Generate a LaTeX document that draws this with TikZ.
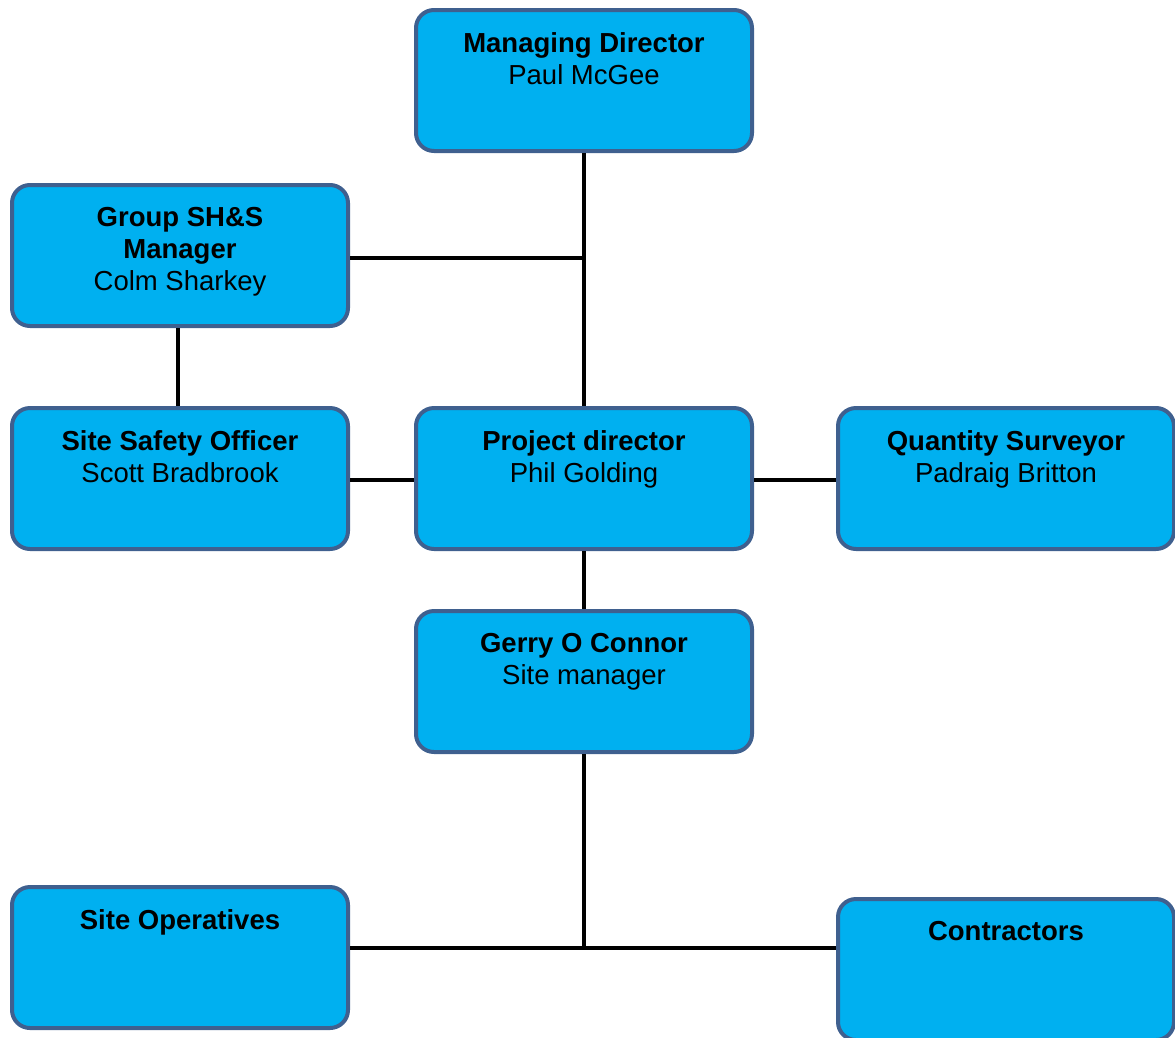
\documentclass[tikz,border=0pt]{standalone}
\usepackage{fontspec}
\setmainfont{Liberation Sans}
\usetikzlibrary{positioning}
\definecolor{boxfill}{RGB}{0,176,240}
\definecolor{boxline}{RGB}{63,96,143}
\tikzset{orgbox/.style={draw=boxline, line width=4pt, fill=boxfill, rounded corners=18pt,
    minimum width=336pt, minimum height=141pt, inner sep=0pt},
  lbl/.style={align=center, inner sep=0pt, font={\fontsize{27.5}{32}\selectfont}},
  link/.style={line width=4pt, black}}

\begin{document}
\begin{tikzpicture}[x=1pt, y=-1pt]
  \useasboundingbox (0,0) rectangle (1175,1037);
  \node[orgbox] (md) at (584,80.5) {};
  \node[orgbox] (shs) at (180,255.5) {};
  \node[orgbox] (sso) at (180,478.5) {};
  \node[orgbox] (pd) at (584,478.5) {};
  \node[orgbox] (qs) at (1006,478.5) {};
  \node[orgbox] (gerry) at (584,681.5) {};
  \node[orgbox] (ops) at (180,957.5) {};
  \node[orgbox] (con) at (1006,969.5) {};
  % texts
  \node[lbl, below=24pt of md.north] (mdt) {\textbf{Managing Director}\\Paul McGee};
  \node[lbl, below=24pt of shs.north] (shst) {\textbf{Group SH\&S}\\\textbf{Manager}\\Colm Sharkey};
  \node[lbl, below=24pt of sso.north] (ssot) {\textbf{Site Safety Officer}\\Scott Bradbrook};
  \node[lbl, below=24pt of pd.north] (pdt) {\textbf{Project director}\\Phil Golding};
  \node[lbl, below=24pt of qs.north] (qst) {\textbf{Quantity Surveyor}\\Padraig Britton};
  \node[lbl, below=24pt of gerry.north] (gerryt) {\textbf{Gerry O Connor}\\Site manager};
  \node[lbl, below=24pt of ops.north] (opst) {\textbf{Site Operatives}};
  \node[lbl, below=24pt of con.north] (cont) {\textbf{Contractors}};
  % connectors
  \coordinate (jb) at (584,948);
  \draw[link] (md.south) -- (pd.north);
  \draw[link] (shs.east |- 0,258) -- (md.south |- 0,258);
  \draw[link] (shs.south -| 178,0) -- (sso.north -| 178,0);
  \draw[link] (sso.east |- 0,480) -- (pd.west |- 0,480);
  \draw[link] (pd.east |- 0,480) -- (qs.west |- 0,480);
  \draw[link] (pd.south) -- (gerry.north);
  \draw[link] (gerry.south) -- (jb);
  \draw[link] (ops.east |- jb) -- (con.west |- jb);
\end{tikzpicture}
\end{document}
